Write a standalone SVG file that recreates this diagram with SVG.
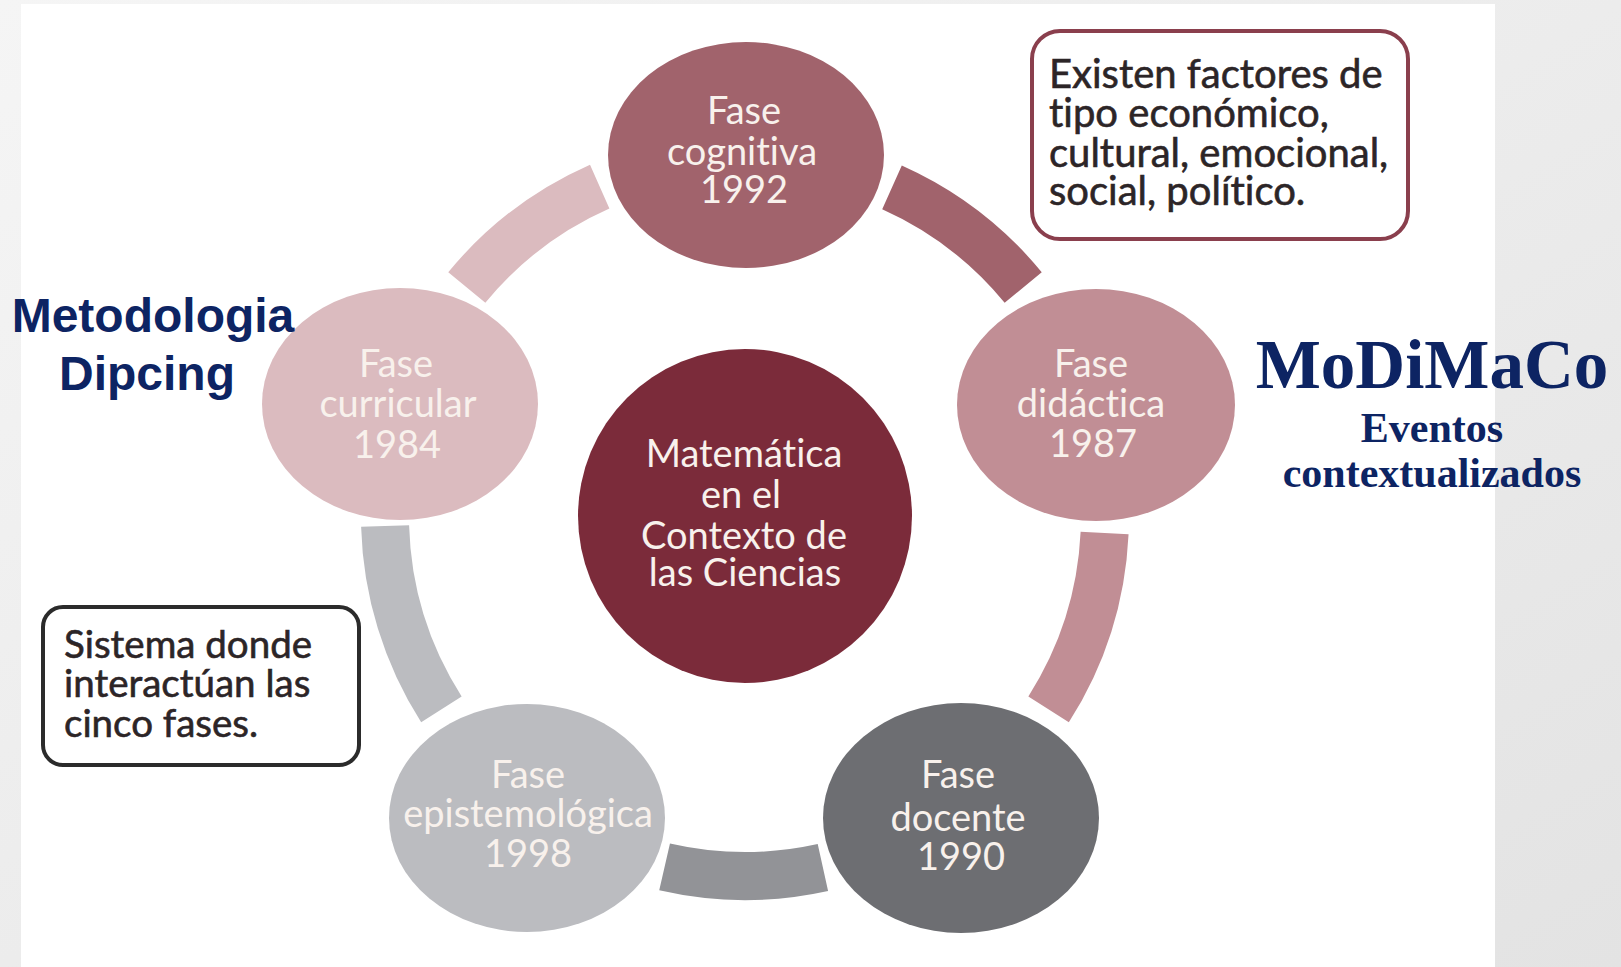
<svg xmlns="http://www.w3.org/2000/svg" width="1621" height="967" viewBox="0 0 1621 967">
  <defs>
    <linearGradient id="pageBg" x1="0" y1="0" x2="1" y2="1">
      <stop offset="0" stop-color="#f5f5f5"/>
      <stop offset="1" stop-color="#e3e3e3"/>
    </linearGradient>
    <style>
      .node-label { font-family: Lato, "Open Sans", sans-serif; font-size: 38px; fill: #f8f1ec; text-anchor: middle; font-variant-ligatures: none; }
      .box-text { font-family: Lato, "Open Sans", sans-serif; fill: #2c2527; stroke: #2c2527; stroke-width: 0.6; font-variant-ligatures: none; }
      .ring { fill: none; stroke-width: 48; stroke-linecap: butt; }
      .title-sans { font-family: "Liberation Sans", Arial, sans-serif; font-weight: bold; fill: #0d2463; text-anchor: middle; }
      .title-serif { font-family: "Liberation Serif", "Times New Roman", serif; font-weight: bold; fill: #0d2463; text-anchor: middle; }
    </style>
  </defs>

  <!-- page background and white slide area -->
  <rect x="0" y="0" width="1621" height="967" fill="url(#pageBg)"/>
  <rect x="21" y="4" width="1474" height="963" fill="#ffffff"/>

  <!-- ring segments between the phases -->
  <g id="connectors">
    <path class="ring" stroke="#a1636c" d="M 892.0 187.4 A 360 360 0 0 1 1023.2 287.5"/>
    <path class="ring" stroke="#c18e95" d="M 1104.6 533.0 A 360 360 0 0 1 1048.6 709.4"/>
    <path class="ring" stroke="#929397" d="M 822.9 867.5 A 360 360 0 0 1 664.6 866.9"/>
    <path class="ring" stroke="#bbbcc0" d="M 441.4 709.4 A 360 360 0 0 1 385.1 526.0"/>
    <path class="ring" stroke="#dbbbbf" d="M 466.8 287.5 A 360 360 0 0 1 599.7 186.6"/>
  </g>

  <!-- central concept -->
  <g id="node-centro">
    <circle cx="745" cy="516" r="167" fill="#7b2b3a"/>
    <text class="node-label" x="744" y="467">Matemática</text>
    <text class="node-label" x="741" y="508">en el</text>
    <text class="node-label" x="744" y="549">Contexto de</text>
    <text class="node-label" x="745" y="586">las Ciencias</text>
  </g>

  <g id="node-cognitiva">
    <ellipse cx="746" cy="155" rx="138" ry="113" fill="#a1636c"/>
    <text class="node-label" x="744" y="124">Fase</text>
    <text class="node-label" x="742" y="165">cognitiva</text>
    <text class="node-label" x="744" y="203">1992</text>
  </g>

  <g id="node-didactica">
    <ellipse cx="1096" cy="405" rx="139" ry="116" fill="#c18e95"/>
    <text class="node-label" x="1091" y="377">Fase</text>
    <text class="node-label" x="1091" y="417">didáctica</text>
    <text class="node-label" x="1093" y="457">1987</text>
  </g>

  <g id="node-docente">
    <ellipse cx="961" cy="818" rx="138" ry="115" fill="#6d6e72"/>
    <text class="node-label" x="958" y="788">Fase</text>
    <text class="node-label" x="958" y="831">docente</text>
    <text class="node-label" x="961" y="870">1990</text>
  </g>

  <g id="node-epistemologica">
    <ellipse cx="527" cy="818" rx="138" ry="114" fill="#bbbcc0"/>
    <text class="node-label" x="528" y="788">Fase</text>
    <text class="node-label" x="528" y="827">epistemológica</text>
    <text class="node-label" x="528" y="867">1998</text>
  </g>

  <g id="node-curricular">
    <ellipse cx="400" cy="404" rx="138" ry="116" fill="#dbbbbf"/>
    <text class="node-label" x="396" y="377">Fase</text>
    <text class="node-label" x="398" y="417">curricular</text>
    <text class="node-label" x="397" y="458">1984</text>
  </g>

  <!-- note boxes -->
  <g id="note-factores">
    <rect x="1032" y="31" width="376" height="208" rx="28" ry="28" fill="#ffffff" stroke="#8a3f4d" stroke-width="4"/>
    <text class="box-text" x="1049" y="88" font-size="40">Existen factores de</text>
    <text class="box-text" x="1049" y="127" font-size="40">tipo económico,</text>
    <text class="box-text" x="1049" y="167" font-size="40">cultural, emocional,</text>
    <text class="box-text" x="1049" y="205" font-size="40">social, político.</text>
  </g>

  <g id="note-sistema">
    <rect x="43" y="607" width="316" height="158" rx="20" ry="20" fill="#ffffff" stroke="#2b2b2b" stroke-width="4"/>
    <text class="box-text" x="64" y="658" font-size="38.5">Sistema donde</text>
    <text class="box-text" x="64" y="697" font-size="38.5">interactúan las</text>
    <text class="box-text" x="64" y="737" font-size="38.5">cinco fases.</text>
  </g>

  <!-- side headings -->
  <g id="heading-dipcing">
    <text class="title-sans" x="153" y="332" font-size="48">Metodologia</text>
    <text class="title-sans" x="147" y="390" font-size="48">Dipcing</text>
  </g>

  <g id="heading-modimaco">
    <text class="title-serif" x="1432" y="388" font-size="69">MoDiMaCo</text>
    <text class="title-serif" x="1432" y="442" font-size="42">Eventos</text>
    <text class="title-serif" x="1432" y="487" font-size="42">contextualizados</text>
  </g>
</svg>
